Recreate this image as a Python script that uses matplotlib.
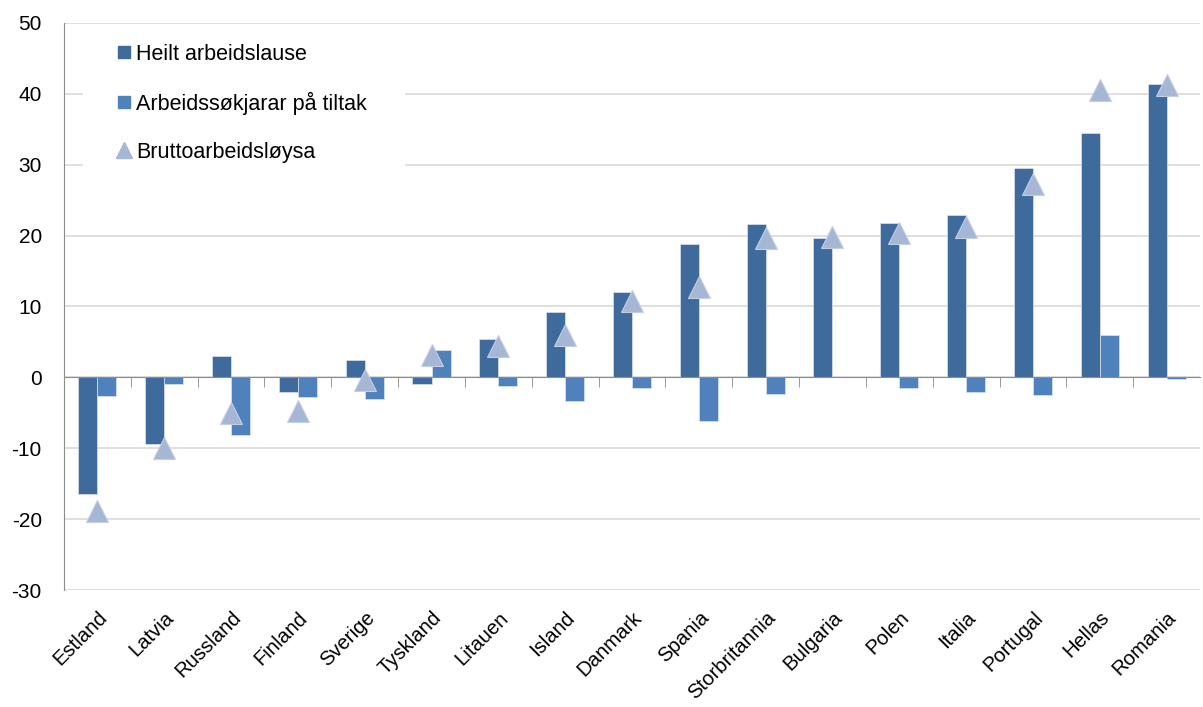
import matplotlib
matplotlib.use("Agg")
import matplotlib.pyplot as plt
import numpy as np
from matplotlib.lines import Line2D
from matplotlib.patches import Rectangle

plt.rcParams['font.family'] = ['Liberation Sans', 'DejaVu Sans']
plt.rcParams['axes.unicode_minus'] = False

countries = ["Estland", "Latvia", "Russland", "Finland", "Sverige", "Tyskland",
             "Litauen", "Island", "Danmark", "Spania", "Storbritannia", "Bulgaria",
             "Polen", "Italia", "Portugal", "Hellas", "Romania"]
heilt = [-16.4, -9.4, 3.0, -2.1, 2.5, -0.9, 5.4, 9.2, 12.1, 18.8, 21.7, 19.6,
         21.8, 22.9, 29.6, 34.5, 41.4]
tiltak = [-2.6, -0.9, -8.2, -2.8, -3.1, 3.9, -1.2, -3.3, -1.5, -6.1, -2.4, 0.0,
          -1.45, -2.0, -2.5, 6.0, -0.2]
brutto = [-18.8, -10.0, -5.0, -4.8, -0.4, 3.2, 4.4, 6.0, 10.8, 12.8, 19.7, 19.8,
          20.4, 21.2, 27.3, 40.6, 41.3]
labels = ["Heilt arbeidslause", "Arbeidssøkjarar på tiltak", "Bruttoarbeidsløysa"]
yticks = [-30, -20, -10, 0, 10, 20, 30, 40, 50]

c_dark = "#3F6A9C"
c_light = "#4F81BD"
c_tri = "#A6B6D5"

W, H = 1203, 707
AX_L, AX_R, AX_T, AX_B = 64, 1200, 23, 590
fig = plt.figure(figsize=(W / 100, H / 100), dpi=100)
ax = fig.add_axes([AX_L / W, (H - AX_B) / H, (AX_R - AX_L) / W, (AX_B - AX_T) / H])

x = np.arange(len(countries))
bw = 0.285
ax.bar(x - bw / 2, heilt, bw, color=c_dark, edgecolor="#dbe3ee", linewidth=0.5, zorder=3)
ax.bar(x + bw / 2, tiltak, bw, color=c_light, edgecolor="#dbe3ee", linewidth=0.5, zorder=3)
ax.plot(x, brutto, linestyle="none", marker="^", markersize=15.5, color=c_tri,
        markeredgecolor="#c3cee3", markeredgewidth=0.8, zorder=4)

ax.set_xlim(-0.5, len(countries) - 0.5)
ax.set_ylim(-30, 50)
ax.set_yticks(yticks)
ax.yaxis.grid(True, color="#D9D9D9", linewidth=1.2, zorder=0)
ax.set_axisbelow(True)
ax.tick_params(axis="y", length=0, pad=16, labelsize=15)

for s in ["top", "right"]:
    ax.spines[s].set_visible(False)
ax.spines["left"].set_color("#8C8C8C")
ax.spines["bottom"].set_position(("data", 0))
ax.spines["bottom"].set_color("#8C8C8C")
ax.spines["bottom"].set_zorder(3.5)
ax.set_xticks(x)
ax.set_xticklabels([])
ax.tick_params(axis="x", which="major", length=0)
ax.set_xticks(np.arange(len(countries) - 1) + 0.5, minor=True)
ax.tick_params(axis="x", which="minor", length=7, color="#8C8C8C", direction="out")

sec = ax.secondary_xaxis(0.0)
sec.set_xticks(x)
sec.set_xticklabels(countries, rotation=45, ha="right", rotation_mode="anchor", fontsize=14.6)
sec.tick_params(length=0, pad=13)
sec.spines["bottom"].set_visible(False)

# white legend background box
def ax_x(px):
    return (px - AX_L) / (AX_R - AX_L)

def ax_y(py):
    return 1 - (py - AX_T) / (AX_B - AX_T)

ax.add_patch(Rectangle((ax_x(83), ax_y(180)), ax_x(405) - ax_x(83), ax_y(28) - ax_y(180),
                       transform=ax.transAxes, facecolor="white", edgecolor="none", zorder=1))

handles = [Line2D([], [], linestyle="none", marker="s", markersize=9, color=c_dark),
           Line2D([], [], linestyle="none", marker="s", markersize=9, color=c_light),
           Line2D([], [], linestyle="none", marker="^", markersize=12, color=c_tri)]
leg = ax.legend(handles, labels, loc="upper left",
                bbox_to_anchor=(ax_x(116), ax_y(44)),
                frameon=False, fontsize=15.5, borderpad=0, labelspacing=1.25,
                handlelength=0.75, handletextpad=0.2, borderaxespad=0)
leg.set_zorder(10)

fig.savefig("out.png", dpi=100)
